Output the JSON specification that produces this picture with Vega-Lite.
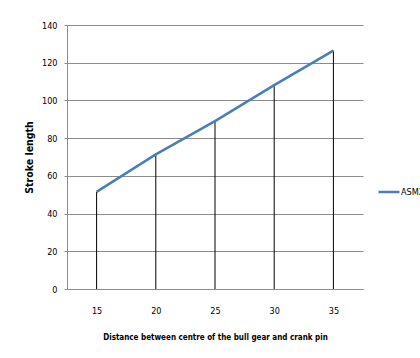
{
  "$schema": "https://vega.github.io/schema/vega-lite/v6.json",
  "width": 296,
  "height": 264,
  "autosize": {"type": "none"},
  "padding": {"left": 67, "top": 25, "right": 57, "bottom": 69},
  "background": "white",
  "config": {
    "view": {"stroke": null},
    "font": "DejaVu Sans Condensed, Liberation Sans, sans-serif",
    "axis": {
      "labelFont": "DejaVu Sans Condensed, Liberation Sans, sans-serif",
      "titleFont": "DejaVu Sans Condensed, Liberation Sans, sans-serif",
      "labelFontSize": 9,
      "labelColor": "#000000",
      "titleColor": "#000000",
      "titleFontSize": 8,
      "titleFontWeight": "bold",
      "domainColor": "#8c8c8c",
      "tickColor": "#8c8c8c",
      "gridColor": "#8c8c8c",
      "gridOpacity": 1
    }
  },
  "data": {
    "values": [
      {"d": 15, "s": 51.5, "series": "ASM2"},
      {"d": 20, "s": 71.4, "series": "ASM2"},
      {"d": 25, "s": 89, "series": "ASM2"},
      {"d": 30, "s": 108.1, "series": "ASM2"},
      {"d": 35, "s": 126.4, "series": "ASM2"}
    ]
  },
  "encoding": {
    "x": {
      "field": "d",
      "type": "ordinal",
      "scale": {"type": "point", "padding": 0.5},
      "axis": {
        "title": "Distance between centre of the bull gear and crank pin",
        "labelAngle": 0,
        "ticks": false,
        "grid": false,
        "labelPadding": 17,
        "titlePadding": 18
      }
    },
    "y": {
      "field": "s",
      "type": "quantitative",
      "scale": {"domain": [0, 140], "nice": false},
      "axis": {
        "title": "Stroke length",
        "titleFontSize": 10.5,
        "values": [0, 20, 40, 60, 80, 100, 120, 140],
        "tickSize": 3,
        "labelPadding": 7,
        "titlePadding": 7,
        "grid": true
      }
    }
  },
  "layer": [
    {
      "mark": {"type": "rule", "color": "#000000", "strokeWidth": 1},
      "encoding": {"y2": {"datum": 0}}
    },
    {
      "mark": {"type": "line", "strokeWidth": 2.5},
      "encoding": {
        "color": {
          "field": "series",
          "type": "nominal",
          "scale": {"range": ["#4A7EBB"]},
          "legend": {
            "title": null,
            "orient": "none",
            "legendX": 310,
            "legendY": 155,
            "symbolType": "stroke",
            "symbolStrokeWidth": 2.5,
            "symbolSize": 441,
            "labelFont": "DejaVu Sans Condensed, Liberation Sans, sans-serif",
            "labelFontSize": 9,
            "labelOffset": 0,
            "padding": 0
          }
        }
      }
    }
  ]
}
